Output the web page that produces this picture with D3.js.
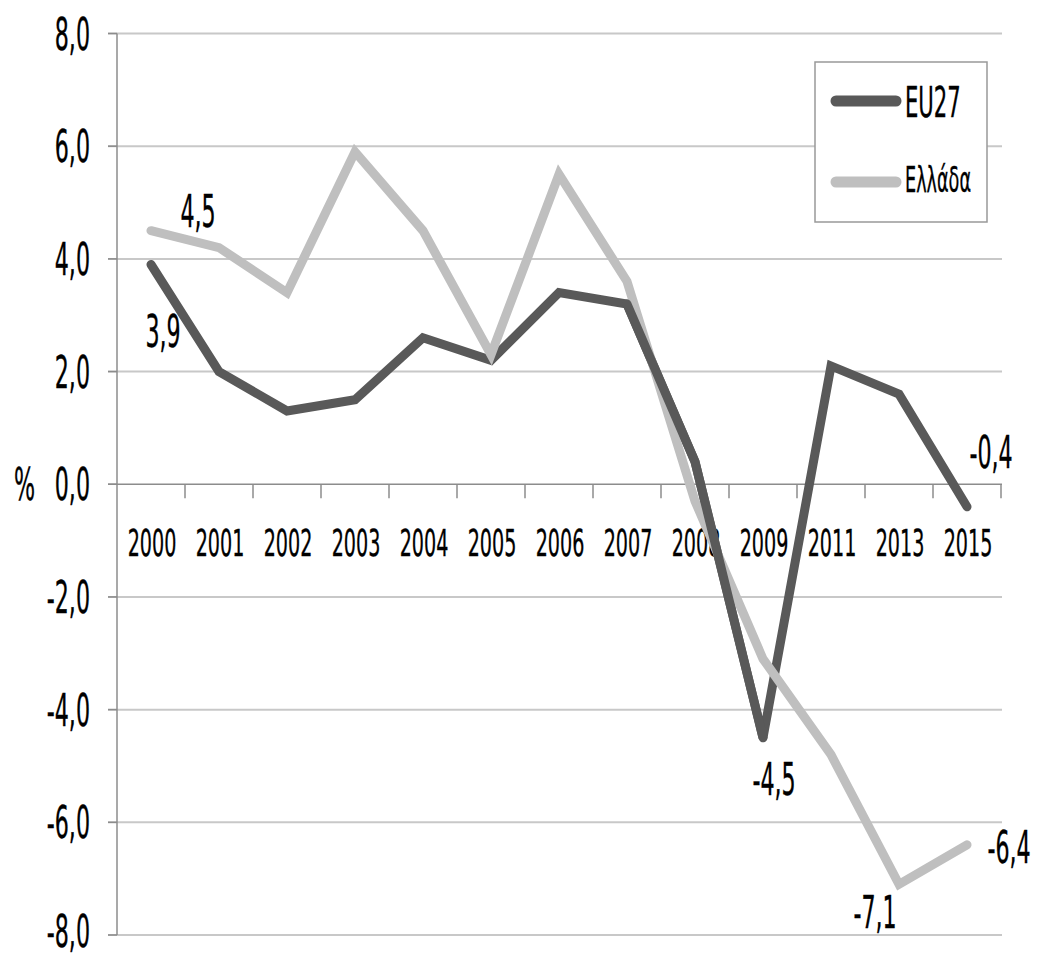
<!DOCTYPE html>
<html>
<head>
<meta charset="utf-8">
<script src="https://cdn.jsdelivr.net/npm/d3@7"></script>
<style>
  body { margin: 0; background: #fff; }
  svg text { font-family: "DejaVu Sans Condensed", "Liberation Sans Narrow", "Liberation Sans", sans-serif; fill: #000; stroke: #000; stroke-width: 0.35px; }
</style>
</head>
<body>
<svg id="chart" width="1037" height="956"></svg>
<script>
// data
var years = ["2000","2001","2002","2003","2004","2005","2006","2007","2008","2009","2011","2013","2015"];
var eu27 = [3.9, 2.0, 1.3, 1.5, 2.6, 2.2, 3.4, 3.2, 0.4, -4.5, 2.1, 1.6, -0.4];
var greece = [4.5, 4.2, 3.4, 5.9, 4.5, 2.3, 5.5, 3.6, -0.3, -3.1, -4.8, -7.1, -6.4];
var yTicks = [-8, -6, -4, -2, 0, 2, 4, 6, 8];
var seriesNames = ["EU27", "Ελλάδα"];
var seriesColors = ["#595959", "#bfbfbf"];

var svg = d3.select("#chart");
var sx = 0.56; // squeeze text horizontally

var x = d3.scaleBand().domain(years).range([117, 1001]).paddingInner(0).paddingOuter(0);
var y = d3.scaleLinear().domain([-8, 8]).range([935, 33.5]);
var fmt = function(v){ return d3.format(".1f")(v).replace(".", ",").replace("−", "-"); };

function label(g, tx, ty, str, size, anchor){
    return g.append("text")
        .attr("transform", "translate(" + tx + "," + ty + ") scale(" + sx + ",1)")
        .attr("text-anchor", anchor || "middle")
        .style("font-size", size + "px")
        .text(str);
}

// gridlines
svg.append("g").selectAll("line")
    .data(yTicks.filter(function(d){ return d !== 0; }))
  .enter().append("line")
    .attr("x1", 108).attr("x2", 1002)
    .attr("y1", function(d){ return y(d); })
    .attr("y2", function(d){ return y(d); })
    .style("stroke", "#c8c8c8")
    .style("stroke-width", 2);

// left axis
var yAxis = svg.append("g");
yAxis.append("line")
    .attr("x1", 117).attr("x2", 117)
    .attr("y1", y(8)).attr("y2", y(-8))
    .style("stroke", "#8c8c8c").style("stroke-width", 1.5);
yAxis.selectAll("line.tick")
    .data(yTicks)
  .enter().append("line")
    .attr("class", "tick")
    .attr("x1", 108).attr("x2", 117)
    .attr("y1", function(d){ return y(d); })
    .attr("y2", function(d){ return y(d); })
    .style("stroke", "#8c8c8c").style("stroke-width", 1.5);
yTicks.forEach(function(d){
    label(yAxis, 90, y(d) + (d === -8 ? 12 : 16), fmt(d), 44, "end");
});
label(yAxis, 35, y(0) + 16, "%", 44, "end");

// x axis at zero
var xAxis = svg.append("g");
xAxis.append("line")
    .attr("x1", 108).attr("x2", 1002)
    .attr("y1", y(0)).attr("y2", y(0))
    .style("stroke", "#8c8c8c").style("stroke-width", 1.5);
xAxis.selectAll("line.tick")
    .data(years)
  .enter().append("line")
    .attr("class", "tick")
    .attr("x1", function(d){ return x(d) + x.bandwidth(); })
    .attr("x2", function(d){ return x(d) + x.bandwidth(); })
    .attr("y1", y(0)).attr("y2", y(0) + 14)
    .style("stroke", "#8c8c8c").style("stroke-width", 1.5);
years.forEach(function(d){
    label(xAxis, x(d) + x.bandwidth() / 2 + 1, 556, d, 38);
});

// lines
var line = d3.line()
    .x(function(d, i){ return x(years[i]) + x.bandwidth() / 2; })
    .y(function(d){ return y(d); });

[eu27, greece].forEach(function(s, k){
    svg.append("path")
        .datum(s)
        .attr("d", line)
        .style("fill", "none")
        .style("stroke", seriesColors[k])
        .style("stroke-width", 9)
        .style("stroke-linejoin", "miter")
        .style("stroke-linecap", "round");
});
// EU27 drawn over greece in the reference near 2008
svg.append("path")
    .datum(eu27.slice(7, 10))
    .attr("d", d3.line()
        .x(function(d, i){ return x(years[i + 7]) + x.bandwidth() / 2; })
        .y(function(d){ return y(d); }))
    .style("fill", "none")
    .style("stroke", seriesColors[0])
    .style("stroke-width", 9)
    .style("stroke-linecap", "round");

// data labels
var lab = svg.append("g");
label(lab, 198, 227, fmt(greece[0]), 44);
label(lab, 163, 347, fmt(eu27[0]), 44);
label(lab, 774, 795, fmt(eu27[9]), 44);
label(lab, 875, 928, fmt(greece[11]), 44);
label(lab, 1009, 863, fmt(greece[12]), 44);
label(lab, 991, 468, fmt(eu27[12]), 44);

// legend
var leg = svg.append("g");
leg.append("rect")
    .attr("x", 815).attr("y", 62)
    .attr("width", 172).attr("height", 160)
    .style("fill", "#fff")
    .style("stroke", "#999").style("stroke-width", 1.5);
seriesNames.forEach(function(n, k){
    var ly = k === 0 ? 101 : 182;
    leg.append("line")
        .attr("x1", 836).attr("x2", 896)
        .attr("y1", ly).attr("y2", ly)
        .style("stroke", seriesColors[k])
        .style("stroke-width", 11)
        .style("stroke-linecap", "round");
    label(leg, 905, k === 0 ? 117 : 192, n, k === 0 ? 42 : 35, "start");
});
</script>
</body>
</html>
